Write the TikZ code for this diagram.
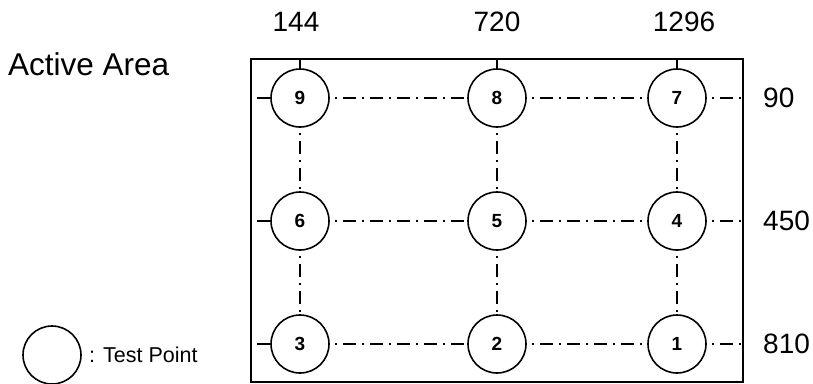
\documentclass[tikz,border=0pt]{standalone}
\usepackage{fontspec}
\setmainfont{Liberation Sans}
\usetikzlibrary{positioning}

\begin{document}
\begin{tikzpicture}[
        x=1pt, y=-1pt,
        node distance=65pt and 139pt,
        tpoint/.style={circle, draw, minimum size=58pt, inner sep=0pt, outer sep=0pt, line width=1.6pt, font=\fontsize{19}{19}\selectfont\bfseries},
        frame/.style={draw, line width=2.2pt},
        tick/.style={draw, line width=1.8pt},
        grid line/.style={draw, line width=2pt, dash pattern=on 2pt off 6pt on 13pt off 6pt, dash phase=-6pt},
        edge line/.style={grid line, dash phase=2pt},
        coordlabel/.style={font=\fontsize{28}{28}\selectfont, inner sep=0pt},
        annotation/.style={font=\fontsize{31.5}{31.5}\selectfont, inner sep=0pt, anchor=west}
    ]
    \useasboundingbox (0,0) rectangle (813,383);

    % Active area outline
    \coordinate (tl) at (251,59);
    \coordinate (br) at (743,382);
    \draw [frame] (tl) rectangle (br);
    \node [annotation] (area) at (8,64) {Active Area};

    % Test points, top row
    \node [tpoint] (p9) at (300,98) {9};
    \node [tpoint, right=of p9] (p8) {8};
    \node [tpoint, right=122pt of p8] (p7) {7};

    % Middle row
    \node [tpoint, below=of p9] (p6) {6};
    \node [tpoint, below=of p8] (p5) {5};
    \node [tpoint, below=of p7] (p4) {4};

    % Bottom row
    \node [tpoint, below=of p6] (p3) {3};
    \node [tpoint, below=of p5] (p2) {2};
    \node [tpoint, below=of p4] (p1) {1};

    % Pixel positions
    \node [coordlabel] (x1) at (296,22) {144};
    \node [coordlabel] (x2) at (497,22) {720};
    \node [coordlabel] (x3) at (684,22) {1296};
    \node [coordlabel, anchor=west] (y1) at (763,98) {90};
    \node [coordlabel, anchor=west] (y2) at (763,221) {450};
    \node [coordlabel, anchor=west] (y3) at (763,344) {810};

    % Legend
    \node [tpoint] (legend) at (52,355) {};
    \node [font=\fontsize{21.5}{21.5}\selectfont, inner sep=0pt, right=8pt of legend] (legtext) {: Test Point};

    % Ticks from the outline
    \path [tick] (p9.north |- tl) -- (p9.north);
    \path [tick] (p8.north |- tl) -- (p8.north);
    \path [tick] (p7.north |- tl) -- (p7.north);

    % Rows
    \path [edge line] (p9.west -| tl) -- (p9.west);
    \path [grid line] (p9.east) -- (p8.west);
    \path [grid line] (p8.east) -- (p7.west);
    \path [grid line] (p7.east) -- (p7.east -| br);
    \path [edge line] (p6.west -| tl) -- (p6.west);
    \path [grid line] (p6.east) -- (p5.west);
    \path [grid line] (p5.east) -- (p4.west);
    \path [grid line] (p4.east) -- (p4.east -| br);
    \path [edge line] (p3.west -| tl) -- (p3.west);
    \path [grid line] (p3.east) -- (p2.west);
    \path [grid line] (p2.east) -- (p1.west);
    \path [grid line] (p1.east) -- (p1.east -| br);

    % Columns
    \path [grid line] (p9) -- (p6);
    \path [grid line] (p6) -- (p3);
    \path [grid line] (p8) -- (p5);
    \path [grid line] (p5) -- (p2);
    \path [grid line] (p7) -- (p4);
    \path [grid line] (p4) -- (p1);

\end{tikzpicture}
\end{document}
